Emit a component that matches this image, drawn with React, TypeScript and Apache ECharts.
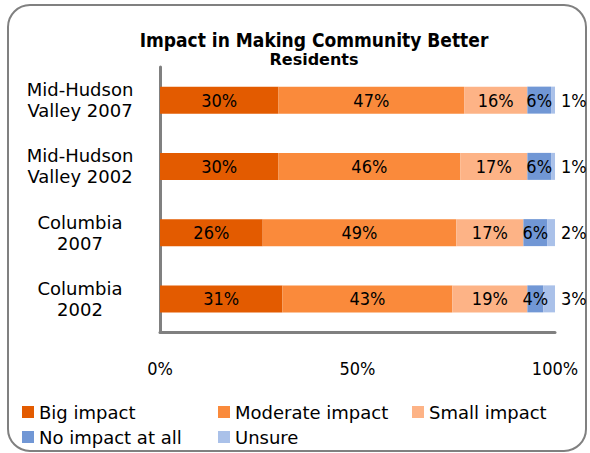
import React, { useEffect, useRef } from "react";
import * as echarts from "echarts";

const categories = ["Mid-Hudson\nValley 2007", "Mid-Hudson\nValley 2002", "Columbia\n2007", "Columbia\n2002"];
const seriesNames = ["Big impact", "Moderate impact", "Small impact", "No impact at all", "Unsure"];
const bigImpact = [30, 30, 26, 31];
const moderateImpact = [47, 46, 49, 43];
const smallImpact = [16, 17, 17, 19];
const noImpact = [6, 6, 6, 4];
const unsure = [1, 1, 2, 3];
const xTicks = [0, 50, 100];

const colors = ["#E35B00", "#FA8A3B", "#FDB386", "#7197D5", "#AAC1E9"];
const FONT = "DejaVu Sans";
const FONT_C = "DejaVu Sans Condensed";

export default function App() {
  const ref = useRef<HTMLDivElement>(null);
  useEffect(() => {
    if (!ref.current) return;
    const chart = echarts.init(ref.current, undefined, { renderer: "svg" });
    const values = [bigImpact, moderateImpact, smallImpact, noImpact, unsure];
    const legendPos = [
      { left: 22, top: 403 },
      { left: 218, top: 403 },
      { left: 412, top: 403 },
      { left: 22, top: 428 },
      { left: 218, top: 428 },
    ];
    chart.setOption({
      animation: false,
      color: colors,
      title: [
        {
          text: "Impact in Making Community Better",
          left: 309,
          textAlign: "center",
          top: 25,
          textStyle: { fontFamily: FONT_C, fontSize: 19, fontWeight: "bold", color: "#000" },
        },
        {
          text: "Residents",
          left: 309,
          textAlign: "center",
          top: 46,
          textStyle: { fontFamily: FONT, fontSize: 16, fontWeight: "bold", color: "#000" },
        },
      ],
      graphic: [
        {
          type: "rect",
          shape: { x: 8, y: 5, width: 578, height: 446, r: 22 },
          style: { fill: "none", stroke: "#808080", lineWidth: 2 },
          silent: true,
        },
      ],
      legend: seriesNames.map((n, i) => ({
        data: [n],
        left: legendPos[i].left,
        top: legendPos[i].top,
        padding: 0,
        icon: "rect",
        itemWidth: 12,
        itemHeight: 12,
        selectedMode: false,
        textStyle: { fontFamily: FONT, fontSize: 18, color: "#000" },
      })),
      grid: { left: 160, right: 35, top: 67, bottom: 121 },
      xAxis: {
        type: "value",
        min: xTicks[0],
        max: xTicks[xTicks.length - 1],
        interval: 50,
        axisLine: { show: true, lineStyle: { color: "#808080", width: 3 } },
        axisTick: { show: false },
        splitLine: { show: false },
        axisLabel: { formatter: "{value}%", margin: 27, fontFamily: FONT_C, fontSize: 18, color: "#000" },
      },
      yAxis: {
        type: "category",
        inverse: true,
        data: categories,
        axisLine: { show: true, lineStyle: { color: "#808080", width: 3 } },
        axisTick: { show: false },
        axisLabel: {
          align: "center",
          margin: 80,
          lineHeight: 21,
          fontFamily: FONT,
          fontSize: 18,
          color: "#000",
        },
      },
      series: seriesNames.map((n, i) => ({
        name: n,
        type: "bar",
        stack: "total",
        barWidth: 27,
        data: values[i],
        label: {
          show: true,
          position: i === 4 ? "right" : "inside",
          distance: 6,
          formatter: "{c}%",
          fontFamily: FONT_C,
          fontSize: 18,
          color: "#000",
        },
      })),
    });
    return () => chart.dispose();
  }, []);
  return <div ref={ref} style={{ position: "fixed", left: 0, top: 0, width: 590, height: 453, background: "#fff" }} />;
}
